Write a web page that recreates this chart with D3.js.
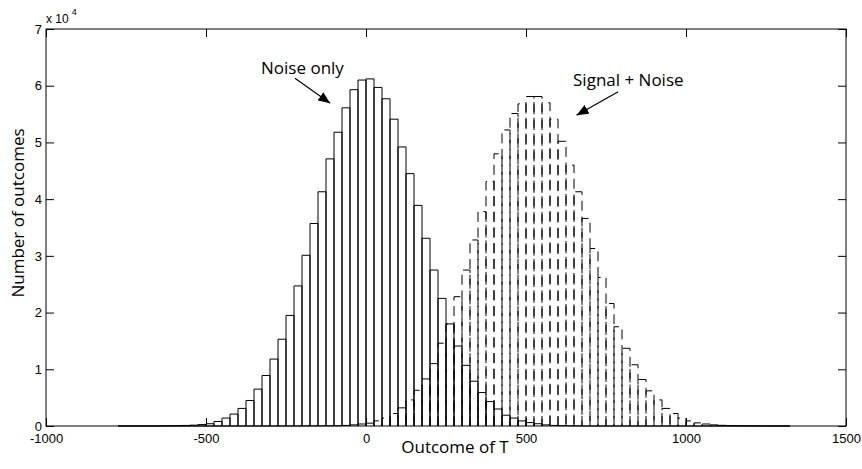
<!DOCTYPE html>
<html>
<head>
<meta charset="utf-8">
<script src="https://cdn.jsdelivr.net/npm/d3@7"></script>
<style>
  body { margin: 0; background: #fff; }
</style>
</head>
<body>
<svg id="chart"></svg>
<script>

// histogram bins: 25 wide, first left edge at -775
const binStart = -775;
const binWidth = 25;

// number of outcomes per bin, in units of 10^4
const noiseCounts = [
    0.001, 0.001, 0.001, 0.002, 0.002, 0.003, 0.004, 0.006, 0.010, 0.015,
    0.025, 0.04, 0.08, 0.14, 0.21, 0.31, 0.45, 0.65, 0.89, 1.18,
    1.53, 1.95, 2.47, 3.01, 3.57, 4.13, 4.71, 5.18, 5.61, 5.93,
    6.10, 6.12, 5.97, 5.77, 5.41, 4.92, 4.45, 3.89, 3.31, 2.75,
    2.25, 1.80, 1.41, 1.07, 0.79, 0.59, 0.43, 0.30, 0.19, 0.14,
    0.09, 0.06, 0.04, 0.02, 0.01, 0.006, 0.004, 0.002, 0.001, 0,
    0, 0, 0, 0, 0, 0, 0, 0, 0, 0,
    0, 0, 0, 0, 0, 0, 0, 0, 0, 0,
    0, 0, 0, 0
];

const signalCounts = [
    0, 0, 0, 0, 0, 0, 0, 0, 0, 0,
    0, 0, 0, 0, 0, 0, 0, 0, 0, 0,
    0.001, 0.001, 0.001, 0.002, 0.002, 0.003, 0.004, 0.006, 0.010, 0.020,
    0.035, 0.05, 0.09, 0.14, 0.22, 0.32, 0.46, 0.63, 0.83, 1.10,
    1.46, 1.80, 2.28, 2.75, 3.28, 3.78, 4.31, 4.80, 5.22, 5.51,
    5.68, 5.81, 5.81, 5.70, 5.41, 5.02, 4.60, 4.13, 3.66, 3.13,
    2.62, 2.16, 1.75, 1.37, 1.08, 0.82, 0.62, 0.46, 0.31, 0.22,
    0.14, 0.09, 0.055, 0.035, 0.02, 0.012, 0.008, 0.005, 0.004, 0.003,
    0.002, 0.001, 0.001, 0.001
];

const xTicks = [-1000, -500, 0, 500, 1000, 1500];
const yTicks = [0, 1, 2, 3, 4, 5, 6, 7];

// labels with arrows, in data units (x: outcome, y: 10^4)
const annotations = [
    { text: "Noise only",     tx: -328, ty: 6.21, from: [-222, 6.13], to: [-112, 5.69] },
    { text: "Signal + Noise", tx: 647,  ty: 6.00, from: [788, 5.895], to: [658, 5.48] }
];

class TwinHistogram {

    constructor( config ) {
        this.config = {
            parent: config.parent,
            width: config.width || 862,
            height: config.height || 469,
            margin: config.margin || {top:29, right:16, bottom:43, left:46},
        };
        this.init();
    }

    init() {
        let self = this;

        self.svg = d3.select( self.config.parent )
            .attr('width', self.config.width)
            .attr('height', self.config.height)
            .style('display', 'block');

        self.inner_width = self.config.width - self.config.margin.left - self.config.margin.right;
        self.inner_height = self.config.height - self.config.margin.top - self.config.margin.bottom;

        self.chart = self.svg.append('g')
            .attr('transform', `translate(${self.config.margin.left}, ${self.config.margin.top})`);

        self.xscale = d3.scaleLinear()
            .domain( [-1000, 1500] )
            .range( [0, self.inner_width] );

        self.yscale = d3.scaleLinear()
            .domain( [0, 7] )
            .range( [self.inner_height, 0] );
    }

    bars( counts, dashed ) {
        let self = this;
        const x = self.xscale, y = self.yscale;
        const bins = counts.map( (v, i) => ({ x0: binStart + i * binWidth, v: v }) );

        self.chart.append('g')
            .selectAll('path')
            .data(bins)
            .join('path')
            .attr('d', d => `M${x(d.x0)},${y(0)}V${y(d.v)}H${x(d.x0 + binWidth)}V${y(0)}`)
            .attr('fill', 'none')
            .attr('stroke', '#000')
            .attr('stroke-width', 1)
            .attr('stroke-dasharray', dashed ? '10,5.7' : null);
    }

    render() {
        let self = this;
        const w = self.inner_width, h = self.inner_height;

        self.bars( signalCounts, true );
        self.bars( noiseCounts, false );

        // axes, ticks pointing inward
        const tickFont = "'Liberation Sans', Arial, sans-serif";
        const plain = d => String(d);
        const styleAxis = g => {
            g.select('.domain').remove();
            g.selectAll('.tick line').attr('stroke', '#000');
            g.selectAll('.tick text')
                .attr('fill', '#000')
                .style('font-family', tickFont)
                .style('font-size', '13px');
        };

        self.chart.append('g')
            .attr('transform', `translate(0, ${h})`)
            .call( d3.axisBottom(self.xscale).tickValues(xTicks).tickFormat(plain).tickSize(-8).tickPadding(8) )
            .call( styleAxis );

        self.chart.append('g')
            .call( d3.axisTop(self.xscale).tickValues(xTicks).tickSize(-8).tickFormat('') )
            .call( styleAxis );

        self.chart.append('g')
            .call( d3.axisLeft(self.yscale).tickValues(yTicks).tickFormat(plain).tickSize(-8).tickPadding(4) )
            .call( styleAxis );

        self.chart.append('g')
            .attr('transform', `translate(${w}, 0)`)
            .call( d3.axisRight(self.yscale).tickValues(yTicks).tickSize(-8).tickFormat('') )
            .call( styleAxis );

        self.chart.append('rect')
            .attr('x', 0).attr('y', 0)
            .attr('width', w).attr('height', h)
            .attr('fill', 'none')
            .attr('stroke', '#000')
            .attr('stroke-width', 1);

        // x 10^4 multiplier
        const mult = self.chart.append('text')
            .attr('x', 0)
            .attr('y', -6)
            .attr('fill', '#000')
            .style('font-family', tickFont)
            .style('font-size', '12px')
            .text('x 10');
        mult.append('tspan')
            .attr('dx', 3)
            .attr('dy', -8)
            .style('font-size', '9px')
            .text('4');

        // axis titles
        const labelFont = "'Open Sans', 'Noto Sans', sans-serif";
        self.svg.append('text')
            .attr('x', 455)
            .attr('y', 453)
            .attr('text-anchor', 'middle')
            .attr('fill', '#000')
            .style('font-family', labelFont)
            .style('font-size', '17px')
            .text('Outcome of T');

        self.svg.append('text')
            .attr('transform', 'translate(24, 213) rotate(-90)')
            .attr('text-anchor', 'middle')
            .attr('fill', '#000')
            .style('font-family', labelFont)
            .style('font-size', '17px')
            .text('Number of outcomes');

        // annotations
        self.svg.append('defs').append('marker')
            .attr('id', 'head')
            .attr('viewBox', '0 0 12 10')
            .attr('refX', 12).attr('refY', 5)
            .attr('markerWidth', 12).attr('markerHeight', 10)
            .attr('markerUnits', 'userSpaceOnUse')
            .attr('orient', 'auto')
            .append('path')
            .attr('d', 'M0,0L12,5L0,10Z')
            .attr('fill', '#000');

        const ann = self.chart.append('g');
        annotations.forEach( a => {
            ann.append('text')
                .attr('x', self.xscale(a.tx))
                .attr('y', self.yscale(a.ty))
                .attr('fill', '#000')
                .style('font-family', labelFont)
                .style('font-size', '17px')
                .text(a.text);
            ann.append('line')
                .attr('x1', self.xscale(a.from[0]))
                .attr('y1', self.yscale(a.from[1]))
                .attr('x2', self.xscale(a.to[0]))
                .attr('y2', self.yscale(a.to[1]))
                .attr('stroke', '#000')
                .attr('stroke-width', 1.2)
                .attr('marker-end', 'url(#head)');
        });
    }
}

const chart = new TwinHistogram({ parent: '#chart' });
chart.render();

</script>
</body>
</html>
